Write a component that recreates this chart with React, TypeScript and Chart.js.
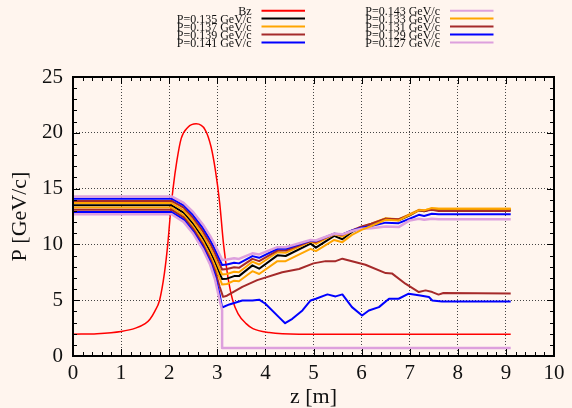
import React, { useEffect, useRef } from 'react';
import { Chart, registerables } from 'chart.js';

Chart.register(...registerables);

// ---- data (z in m, P in GeV/c; Bz scaled onto the same axis) ----
const zBz = [0, 0.5, 1.0, 1.3, 1.5, 1.6, 1.7, 1.8, 1.9, 1.97, 2.02, 2.08, 2.16, 2.25, 2.39, 2.56, 2.75, 2.87, 2.96, 3.05, 3.13, 3.22, 3.32, 3.43, 3.6, 3.74, 4.08, 4.7, 9.1];
const bz = [1.95, 2.0, 2.2, 2.5, 2.9, 3.3, 4.0, 5.0, 7.4, 10, 12.5, 15, 17.5, 19.5, 20.5, 20.8, 20.25, 18.75, 16.65, 13.7, 10, 7.1, 5.0, 3.8, 2.9, 2.45, 2.1, 1.95, 1.95];

const zBundle = [0, 2.05, 2.3, 2.5, 2.7, 2.85, 2.95, 3.05, 3.1, 3.2, 3.35, 3.45, 3.73, 3.87, 4.25, 4.42, 4.94, 5.05, 5.43, 5.6, 5.8, 6.0, 6.2, 6.5, 6.77, 7.0, 7.19, 7.3, 7.46, 7.6, 9.1];
const p135 = [13.5, 13.5, 12.84, 11.84, 10.57, 9.38, 8.45, 7.38, 6.9, 6.93, 7.16, 7.16, 8.12, 7.82, 9.02, 8.96, 10.07, 9.71, 10.76, 10.46, 11.12, 11.5, 11.8, 12.31, 12.16, 12.6, 13.06, 12.97, 13.2, 13.1, 13.1];
const p137 = [13.7, 13.7, 13.06, 12.09, 10.86, 9.7, 8.8, 7.77, 7.3, 7.35, 7.55, 7.5, 8.45, 8.2, 9.3, 9.25, 10.25, 10.05, 10.9, 10.7, 11.2, 11.55, 11.85, 12.35, 12.25, 12.7, 13.1, 13.05, 13.25, 13.2, 13.2];
const p139 = [13.9, 13.9, 13.29, 12.36, 11.19, 10.09, 9.23, 8.24, 7.75, 7.8, 7.95, 7.9, 8.7, 8.5, 9.45, 9.45, 10.3, 10.2, 10.95, 10.85, 11.25, 11.6, 11.85, 12.3, 12.25, 12.65, 13.05, 13.0, 13.1, 13.0, 13.0];
const p141 = [14.1, 14.1, 13.5, 12.61, 11.48, 10.41, 9.58, 8.63, 8.15, 8.2, 8.35, 8.3, 8.95, 8.8, 9.6, 9.6, 10.35, 10.3, 10.95, 10.9, 11.25, 11.5, 11.65, 11.95, 11.9, 12.3, 12.65, 12.55, 12.75, 12.7, 12.7];
const p143 = [14.3, 14.3, 13.73, 12.88, 11.79, 10.77, 9.97, 9.06, 8.6, 8.65, 8.75, 8.7, 9.2, 9.1, 9.75, 9.75, 10.4, 10.35, 10.95, 10.9, 11.2, 11.4, 11.45, 11.6, 11.55, 12.15, 12.3, 12.2, 12.3, 12.25, 12.25];
const p133 = [13.3, 13.3, 12.61, 11.58, 10.26, 9.02, 8.06, 6.95, 6.4, 6.45, 6.75, 6.7, 7.6, 7.35, 8.5, 8.5, 9.6, 9.4, 10.4, 10.2, 10.85, 11.3, 11.65, 12.2, 12.15, 12.65, 13.05, 13.05, 13.25, 13.2, 13.2];

const z131 = [0, 2.05, 2.3, 2.5, 2.7, 2.85, 2.95, 3.05, 3.12, 3.2, 3.32, 3.52, 3.83, 4.35, 4.7, 5.0, 5.25, 5.46, 5.6, 5.94, 6.08, 6.5, 6.63, 6.91, 7.19, 7.33, 7.47, 7.6, 7.7, 9.1];
const p131 = [13.1, 13.1, 12.42, 11.38, 10.02, 8.75, 7.7, 6.2, 5.3, 5.4, 5.7, 6.2, 6.8, 7.5, 7.8, 8.3, 8.5, 8.5, 8.72, 8.33, 8.18, 7.43, 7.4, 6.48, 5.73, 5.88, 5.73, 5.5, 5.65, 5.6];

const z129 = [0, 2.05, 2.3, 2.5, 2.7, 2.85, 2.95, 3.05, 3.1, 3.25, 3.52, 3.73, 3.87, 4.0, 4.28, 4.41, 4.56, 4.77, 4.94, 5.05, 5.29, 5.46, 5.6, 5.8, 6.01, 6.15, 6.36, 6.57, 6.77, 6.98, 7.22, 7.4, 7.47, 7.67, 9.1];
const p129 = [12.9, 12.9, 12.22, 11.15, 9.78, 8.48, 7.3, 5.5, 4.35, 4.62, 4.98, 4.98, 5.05, 4.68, 3.48, 2.94, 3.33, 4.08, 4.98, 5.13, 5.52, 5.34, 5.52, 4.38, 3.63, 4.08, 4.38, 5.13, 5.13, 5.58, 5.43, 5.28, 4.98, 4.88, 4.88];

const z127 = [0, 2.05, 2.3, 2.5, 2.7, 2.85, 2.95, 3.05, 3.1, 3.1, 9.1];
const p127 = [12.7, 12.7, 12.02, 10.95, 9.55, 8.2, 6.9, 5.0, 4.1, 0.72, 0.72];

const legendLeft = ['Bz', 'P=0.135 GeV/c', 'P=0.137 GeV/c', 'P=0.139 GeV/c', 'P=0.141 GeV/c'];
const legendRight = ['P=0.143 GeV/c', 'P=0.133 GeV/c', 'P=0.131 GeV/c', 'P=0.129 GeV/c', 'P=0.127 GeV/c'];

const xLabel = 'z [m]';
const yLabel = 'P [GeV/c]';

// ---- styles ----
const BG = '#fff5ee';
const RED = '#ff0000';
const BLACK = '#000000';
const ORANGE = '#ffa500';
const BROWN = '#a52a2a';
const BLUE = '#0000ff';
const PLUM = '#dda0dd';
const colorsLeft = [RED, BLACK, ORANGE, BROWN, BLUE];
const colorsRight = [PLUM, ORANGE, BROWN, BLUE, PLUM];
const FONT_FAMILY = "'Liberation Serif', 'DejaVu Serif', serif";

const toPts = (xs: number[], ys: number[]) => xs.map((x, i) => ({ x, y: ys[i] }));

const framePlugin = {
  id: 'frame',
  beforeDraw(chart: any) {
    const { ctx, width, height } = chart;
    ctx.save();
    ctx.fillStyle = BG;
    ctx.fillRect(0, 0, width, height);
    ctx.restore();
  },
  afterDraw(chart: any) {
    const { ctx, chartArea: a, scales } = chart;
    const xs = scales.x;
    const ys = scales.y;
    ctx.save();
    ctx.strokeStyle = '#000';
    ctx.lineWidth = 1;
    ctx.beginPath();
    for (let i = 0; i <= 50; i++) {
      const v = i * 0.2;
      const px = Math.round(xs.getPixelForValue(v)) + 0.5;
      const len = i % 5 === 0 ? 7 : 4;
      ctx.moveTo(px, a.bottom);
      ctx.lineTo(px, a.bottom - len);
      ctx.moveTo(px, a.top);
      ctx.lineTo(px, a.top + len);
    }
    for (let i = 0; i <= 25; i++) {
      const py = Math.round(ys.getPixelForValue(i)) + 0.5;
      const len = i % 5 === 0 ? 7 : 4;
      ctx.moveTo(a.left, py);
      ctx.lineTo(a.left + len, py);
      ctx.moveTo(a.right, py);
      ctx.lineTo(a.right - len, py);
    }
    ctx.stroke();
    ctx.lineWidth = 2;
    ctx.strokeRect(a.left, a.top, a.right - a.left, a.bottom - a.top);

    // legend
    ctx.font = `12px ${FONT_FAMILY}`;
    ctx.fillStyle = '#111';
    ctx.textAlign = 'right';
    ctx.textBaseline = 'middle';
    const rows = [10.7, 18.5, 26.6, 34.6, 42.6];
    const drawCol = (labels: string[], colors: string[], textRight: number, l1: number, l2: number) => {
      labels.forEach((t, i) => {
        ctx.fillText(t, textRight, rows[i] + 1);
        ctx.strokeStyle = colors[i];
        ctx.lineWidth = 2;
        ctx.beginPath();
        ctx.moveTo(l1, rows[i]);
        ctx.lineTo(l2, rows[i]);
        ctx.stroke();
      });
    };
    drawCol(legendLeft, colorsLeft, 251.5, 261.5, 305);
    drawCol(legendRight, colorsRight, 440, 450, 493.5);
    ctx.restore();
  },
};

export default function App() {
  const ref = useRef<HTMLCanvasElement>(null);
  useEffect(() => {
    document.body.style.margin = '0';
    const series = [
      { label: 'Bz', data: toPts(zBz, bz), color: RED, w: 1.5, smooth: true },
      { label: 'P=0.135 GeV/c', data: toPts(zBundle, p135), color: BLACK, w: 2 },
      { label: 'P=0.137 GeV/c', data: toPts(zBundle, p137), color: ORANGE, w: 2 },
      { label: 'P=0.139 GeV/c', data: toPts(zBundle, p139), color: BROWN, w: 2 },
      { label: 'P=0.141 GeV/c', data: toPts(zBundle, p141), color: BLUE, w: 2 },
      { label: 'P=0.143 GeV/c', data: toPts(zBundle, p143), color: PLUM, w: 2.5 },
      { label: 'P=0.133 GeV/c', data: toPts(zBundle, p133), color: ORANGE, w: 2 },
      { label: 'P=0.131 GeV/c', data: toPts(z131, p131), color: BROWN, w: 2 },
      { label: 'P=0.129 GeV/c', data: toPts(z129, p129), color: BLUE, w: 2 },
      { label: 'P=0.127 GeV/c', data: toPts(z127, p127), color: PLUM, w: 2.5 },
    ];
    const datasets = series
      .map((s: any) => ({
        label: s.label,
        data: s.data,
        borderColor: s.color,
        backgroundColor: s.color,
        borderWidth: s.w,
        pointRadius: 0,
        tension: 0,
        cubicInterpolationMode: s.smooth ? 'monotone' : 'default',
        borderJoinStyle: 'round',
        fill: false,
      }))
      .reverse();
    const tickFont = { family: FONT_FAMILY, size: 21 };
    const titleFont = { family: FONT_FAMILY, size: 22, lineHeight: 1 };
    const gridColor = (c: any) => {
      const v = c.tick ? c.tick.value : null;
      if (v === null) return 'transparent';
      const s = c.scale;
      if (v === s.min || v === s.max) return 'transparent';
      return '#444';
    };
    const chart = new Chart(ref.current!, {
      type: 'line',
      data: { datasets } as any,
      plugins: [framePlugin],
      options: {
        animation: false,
        responsive: true,
        maintainAspectRatio: false,
        layout: { padding: { top: 77, right: 18, bottom: 0, left: 0 } },
        plugins: { legend: { display: false }, tooltip: { enabled: false } },
        scales: {
          x: {
            type: 'linear',
            min: 0,
            max: 10,
            ticks: { stepSize: 1, font: tickFont, color: '#111', padding: 5, maxRotation: 0, autoSkip: false },
            grid: { color: gridColor, lineWidth: 1, drawTicks: false },
            border: { display: false, dash: [1, 2] },
            title: { display: true, text: xLabel, font: titleFont, color: '#111', padding: { top: 0, bottom: 0 } },
            afterFit: (s: any) => { s.height = 52; },
          },
          y: {
            type: 'linear',
            min: 0,
            max: 25,
            ticks: { stepSize: 5, font: tickFont, color: '#111', padding: 10 },
            grid: { color: gridColor, lineWidth: 1, drawTicks: false },
            border: { display: false, dash: [1, 2] },
            title: { display: true, text: yLabel, font: titleFont, color: '#111', padding: { top: 9, bottom: 0 } },
            afterFit: (s: any) => { s.width = 73; },
          },
        },
      } as any,
    });
    return () => chart.destroy();
  }, []);
  return (
    <div style={{ position: 'relative', width: 572, height: 408, background: BG }}>
      <canvas ref={ref} />
    </div>
  );
}
